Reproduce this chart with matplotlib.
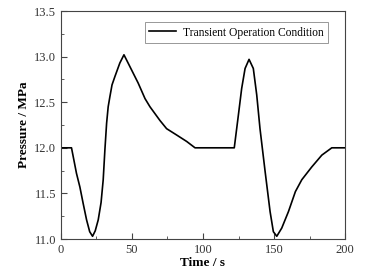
import matplotlib
matplotlib.use('Agg')
from matplotlib import pyplot as plt
from matplotlib.ticker import MultipleLocator

# values
time_s = [0, 7.5, 11, 13.4, 15.7, 18.1, 20.3, 22.3, 24.2, 26.3, 28.3, 29.8, 31.0, 32.2,
          33.3, 34.5, 36.0, 38.0, 41.5, 44.4, 48.6, 54.4, 59.2, 62.7, 69.7, 74.4, 81.5,
          88.5, 94.4, 122, 124.9, 127.2, 129.6, 132.4, 135.4, 137.8, 140.1, 143.7, 147.2,
          149.5, 151.9, 155.4, 160.1, 165.0, 169.5, 176.5, 183.6, 190.6, 200]
pressure_mpa = [12.0, 12.0, 11.72, 11.57, 11.39, 11.21, 11.08, 11.03, 11.09, 11.21, 11.40,
                11.65, 11.98, 12.27, 12.45, 12.56, 12.69, 12.78, 12.93, 13.02, 12.89, 12.71,
                12.54, 12.45, 12.30, 12.21, 12.14, 12.07, 12.0, 12.0, 12.36, 12.65, 12.87,
                12.97, 12.87, 12.58, 12.21, 11.74, 11.30, 11.08, 11.03, 11.12, 11.30, 11.52,
                11.65, 11.79, 11.92, 12.0, 12.0]

plt.rcParams['font.family'] = ['Liberation Serif', 'DejaVu Serif']

fig = plt.figure(figsize=(3.9, 2.69), dpi=100)
ax = fig.add_axes([0.156, 0.1115, 0.729, 0.8475])
ax.plot(time_s, pressure_mpa, color='black', lw=1.2, label='Transient Operation Condition')

ax.set_xlim(0, 200)
ax.set_ylim(11.0, 13.5)
ax.xaxis.set_major_locator(MultipleLocator(50))
ax.xaxis.set_minor_locator(MultipleLocator(25))
ax.yaxis.set_major_locator(MultipleLocator(0.5))
ax.yaxis.set_minor_locator(MultipleLocator(0.25))
ax.yaxis.set_major_formatter(matplotlib.ticker.FormatStrFormatter('%.1f'))
ax.tick_params(which='both', direction='in', top=False, right=False,
               labelsize=9, labelcolor='#333333', color='#444444')
ax.tick_params(which='major', length=4)
ax.tick_params(which='minor', length=2)
for s in ax.spines.values():
    s.set_color('#444444')
    s.set_linewidth(0.8)

ax.set_xlabel('Time / s', fontsize=9.5, fontweight='bold', labelpad=1)
ax.set_ylabel('Pressure / MPa', fontsize=9.5, fontweight='bold', labelpad=3)

leg = ax.legend(loc='upper right', fontsize=8.3, fancybox=False, framealpha=1,
                edgecolor='#888888', handlelength=2.4, handletextpad=0.6, borderpad=0.35,
                bbox_to_anchor=(0.96, 0.975))
leg.get_frame().set_linewidth(0.6)

plt.savefig('out.png', dpi=100)
